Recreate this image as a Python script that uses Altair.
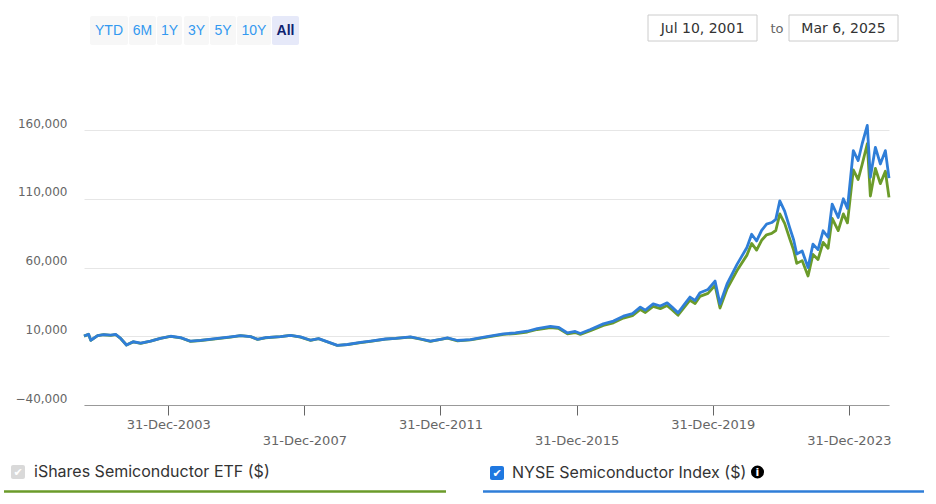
import altair as alt
import pandas as pd

# ---------------- data ----------------
dates = [
    "2001-07-10", "2001-08-28", "2001-09-21", "2001-12-03", "2002-02-07", "2002-04-22",
    "2002-06-15", "2002-08-07", "2002-10-09", "2002-12-20", "2003-03-10", "2003-06-25",
    "2003-10-08", "2004-01-25", "2004-05-12", "2004-08-26", "2004-12-12", "2005-05-22",
    "2005-10-30", "2006-02-14", "2006-06-01", "2006-08-15", "2006-11-09", "2007-04-19",
    "2007-08-04", "2007-11-20", "2008-03-07", "2008-06-02", "2008-08-15", "2008-12-20",
    "2009-04-06", "2009-08-25", "2009-12-10", "2010-05-20", "2010-09-05", "2011-02-12",
    "2011-06-01", "2011-09-14", "2012-01-01", "2012-03-15", "2012-07-01", "2012-11-16",
    "2013-04-27", "2013-11-06", "2014-03-14", "2014-07-20", "2014-11-03", "2015-03-25",
    "2015-06-18", "2015-09-24", "2015-12-16", "2016-02-09", "2016-05-27", "2016-10-13",
    "2017-01-29", "2017-05-16", "2017-08-22", "2017-11-14", "2018-01-07", "2018-04-01",
    "2018-06-17", "2018-08-29", "2018-10-23", "2018-12-24", "2019-02-28", "2019-05-01",
    "2019-06-25", "2019-08-16", "2019-11-10", "2020-01-25", "2020-03-18", "2020-06-02",
    "2020-09-17", "2021-01-01", "2021-02-21", "2021-04-15", "2021-06-08", "2021-07-31",
    "2021-09-24", "2021-11-07", "2021-12-20", "2022-02-10", "2022-04-05", "2022-05-18",
    "2022-06-20", "2022-08-17", "2022-10-19", "2022-12-11", "2023-02-03", "2023-03-30",
    "2023-05-22", "2023-07-05", "2023-09-08", "2023-11-02", "2023-12-16", "2024-02-17",
    "2024-04-09", "2024-05-22", "2024-07-16", "2024-08-18", "2024-10-11", "2024-12-03",
    "2025-01-26", "2025-03-06",
]

nyse_values = [
    10200, 11500, 7100, 10500, 11200, 10800, 11300, 8500, 3650, 6000, 5000, 6500,
    8500, 10000, 9000, 6400, 7000, 8200, 9500, 10500, 9800, 7800, 9000, 9800,
    10700, 9500, 7100, 8300, 6500, 3400, 4000, 5500, 6400, 8000, 8500, 9500,
    8000, 6400, 7800, 8800, 6900, 7600, 9500, 11700, 12500, 13650, 15600, 17100,
    16500, 12400, 13500, 12000, 14900, 19000, 21000, 24600, 26500, 31200, 29000, 33600,
    32000, 34300, 31000, 27000, 33000, 38500, 36000, 41600, 44000, 50150, 33400, 48000,
    62300, 74500, 84200, 79300, 87000, 91500, 92700, 95000, 108500, 101000, 89000, 80000,
    69800, 72000, 59900, 77000, 73000, 86700, 82000, 106100, 96400, 110000, 103000, 145000,
    137800, 150000, 163300, 125600, 147400, 135300, 145000, 125000,
]

etf_values = [
    10100, 11400, 7000, 10400, 11100, 10700, 11200, 8400, 3600, 5900, 4900, 6400,
    8400, 9900, 8900, 6300, 6900, 8100, 9400, 10400, 9700, 7700, 8900, 9700,
    10600, 9400, 7000, 8200, 6400, 3300, 3900, 5400, 6300, 7900, 8400, 9400,
    7900, 6300, 7700, 8600, 6700, 7400, 9200, 11300, 12000, 13100, 14900, 16300,
    15700, 11700, 12700, 11300, 14000, 17900, 19800, 23200, 25000, 29500, 27300, 31700,
    30100, 32300, 29100, 25300, 31000, 36200, 33800, 39000, 41200, 47000, 30500, 44500,
    57800, 69000, 77500, 72700, 79800, 83800, 84800, 86900, 99000, 92100, 81000, 72500,
    63000, 65000, 53800, 69500, 65800, 78300, 74000, 95800, 86800, 99000, 92500, 131000,
    124000, 135000, 150000, 112000, 132000, 121000, 130000, 111000,
]

y_ticks = [-40000, 10000, 60000, 110000, 160000]
x_tick_years = [2003, 2007, 2011, 2015, 2019, 2023]
range_buttons = ["YTD", "6M", "1Y", "3Y", "5Y", "10Y", "All"]
start_label = "Jul 10, 2001"
end_label = "Mar 6, 2025"
series_names = ["iShares Semiconductor ETF ($)", "NYSE Semiconductor Index ($)"]

n = len(dates)
df = pd.DataFrame({
    "date": dates + dates,
    "value": etf_values + nyse_values,
    "series": [series_names[0]] * n + [series_names[1]] * n,
})

# ---------------- layout ----------------
W, H = 805, 275
OX, OY = 84, 130  # plot origin in page pixels
GREEN = "#6b9b2a"
BLUE = "#2f7ed8"


def rx(v):
    return v - OX


def ry(v):
    return v - OY


x_axis = alt.Axis(
    values=[alt.DateTime(year=y, month=12, date=31, utc=True) for y in x_tick_years],
    labelExpr="utcFormat(datum.value, '%d-%b-%Y')",
    title=None,
    grid=False,
    domainColor="#999999",
    domainWidth=1,
    tickColor="#666666",
    tickSize=10,
    labelPadding={"condition": {"test": "utcyear(datum.value) % 8 == 7", "value": 19}, "value": 3},
    labelFont="DejaVu Sans",
    labelFontSize=13,
    labelColor="#666666",
    labelFlush=False,
    labelOverlap=False,
)

y_axis = alt.Axis(
    values=y_ticks,
    labelExpr="format(datum.value, ',')",
    title=None,
    domain=False,
    ticks=False,
    grid=True,
    gridColor="#e6e6e6",
    gridWidth=1,
    labelPadding=17,
    labelOffset=-7,
    labelFont="DejaVu Sans",
    labelFontSize=12,
    labelColor="#666666",
)

lines = alt.Chart(df).mark_line(strokeWidth=2.8, strokeJoin="round", clip=False).encode(
    x=alt.X("date:T", scale=alt.Scale(type="utc"), axis=x_axis),
    y=alt.Y("value:Q", scale=alt.Scale(domain=[-40000, 160000], nice=False, zero=False), axis=y_axis),
    color=alt.Color("series:N", scale=alt.Scale(domain=series_names, range=[GREEN, BLUE]), legend=None),
)

deco_df = pd.DataFrame({"k": [0]})
layers = [lines]


def rect(x0, x1, y0, y1, **kw):
    return alt.Chart(deco_df).mark_rect(**kw).encode(
        x=alt.value(rx(x0)), x2=alt.value(rx(x1)), y=alt.value(ry(y0)), y2=alt.value(ry(y1))
    )


def text(t, x, y, **kw):
    return alt.Chart(deco_df).mark_text(**kw).encode(
        x=alt.value(rx(x)), y=alt.value(ry(y)), text=alt.value(t)
    )


def hline(x0, x1, y, color, w):
    return alt.Chart(deco_df).mark_rule(color=color, strokeWidth=w).encode(
        x=alt.value(rx(x0)), x2=alt.value(rx(x1)), y=alt.value(ry(y))
    )


# range selector buttons
button_edges = [(90, 128), (129, 156), (157, 182), (184, 209), (210, 236), (237, 271), (272, 299)]
for label, (b0, b1) in zip(range_buttons, button_edges):
    selected = label == "All"
    layers.append(rect(b0, b1, 16, 45, fill="#e6e9f9" if selected else "#f7f7f7", cornerRadius=2))
    layers.append(
        text(
            label, (b0 + b1) / 2, 30.5,
            align="center", baseline="middle", font="Liberation Sans", fontSize=14,
            fontWeight="bold" if selected else "normal",
            color="#0d2270" if selected else "#3399f0",
        )
    )

# date inputs
layers.append(rect(648, 757, 15, 41, fill="white", stroke="#cccccc", strokeWidth=1))
layers.append(text(start_label, 702.5, 28.5, align="center", baseline="middle",
                   font="DejaVu Sans", fontSize=14, color="#333333"))
layers.append(text("to", 777, 28.5, align="center", baseline="middle",
                   font="DejaVu Sans", fontSize=13, color="#666666"))
layers.append(rect(789, 898, 15, 41, fill="white", stroke="#cccccc", strokeWidth=1))
layers.append(text(end_label, 843.5, 28.5, align="center", baseline="middle",
                   font="DejaVu Sans", fontSize=14, color="#333333"))

# legend 1 (ETF)
layers.append(rect(11, 25, 465, 479, fill="#d9d9d9", cornerRadius=2))
layers.append(text("✔", 18, 472.5, align="center", baseline="middle",
                   font="DejaVu Sans", fontSize=11, color="white"))
layers.append(text(series_names[0], 34, 472, align="left", baseline="middle",
                   font="Inter", fontSize=16, color="#333333"))
layers.append(hline(4, 446, 491.5, GREEN, 2.5))

# legend 2 (NYSE)
layers.append(rect(490, 504, 466, 480, fill="#1f78e0", cornerRadius=2))
layers.append(text("✔", 497, 473.5, align="center", baseline="middle",
                   font="DejaVu Sans", fontSize=11, color="white"))
layers.append(text(series_names[1], 512, 473, align="left", baseline="middle",
                   font="Inter", fontSize=16, color="#333333"))
layers.append(alt.Chart(deco_df).mark_circle(size=170, color="black", opacity=1).encode(
    x=alt.value(rx(757.5)), y=alt.value(ry(472))))
layers.append(text("i", 757.5, 472.5, align="center", baseline="middle",
                   font="DejaVu Sans", fontSize=11, fontWeight="bold", color="white"))
layers.append(hline(483, 924, 491.5, BLUE, 2.5))

chart = alt.layer(*layers).properties(
    width=W,
    height=H,
    autosize=alt.AutoSizeParams(type="none"),
    padding={"left": OX, "top": OY, "right": 936 - OX - W, "bottom": 504 - OY - H},
    background="white",
).configure_view(stroke=None)

chart.save("out.html", embed_options={"renderer": "svg", "actions": False})
